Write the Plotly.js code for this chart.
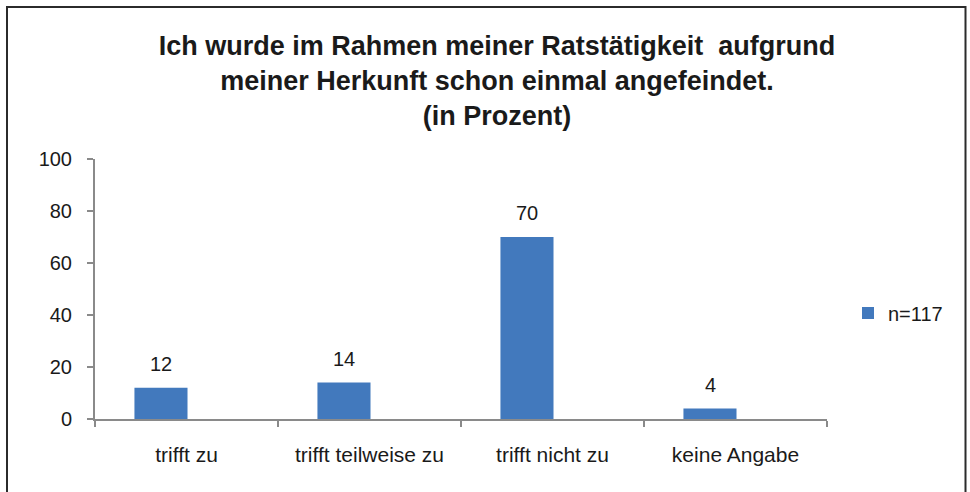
<!DOCTYPE html>
<html>
<head>
<meta charset="utf-8">
<script src="https://cdn.plot.ly/plotly-3.0.1.min.js"></script>
<style>
html,body{margin:0;padding:0;background:#fff;}
#chart{width:970px;height:492px;}
</style>
</head>
<body>
<div id="chart"></div>
<script>
const categories = ["trifft zu", "trifft teilweise zu", "trifft nicht zu", "keine Angabe"];
const values = [12, 14, 70, 4];
const seriesName = "n=117";
const yTicks = [0, 20, 40, 60, 80, 100];
const titleLines = [
  "Ich wurde im Rahmen meiner Ratstätigkeit  aufgrund",
  "meiner Herkunft schon einmal angefeindet.",
  "(in Prozent)"
];

const FONT = "Liberation Sans, Arial, Helvetica, sans-serif";
const BAR = "#4279bd";
const AXIS = "#8a8a8a";

const trace = {
  type: "bar",
  x: categories,
  y: values,
  name: seriesName,
  width: 0.29,
  offset: -0.2845,
  marker: {color: BAR, line: {width: 0}},
  hoverinfo: "x+y",
  showlegend: true
};

const labelAnnotations = categories.map((c, i) => ({
  x: c, y: values[i], xref: "x", yref: "y",
  text: String(values[i]),
  showarrow: false,
  xanchor: "center", yanchor: "bottom",
  xshift: -25.5, yshift: 11,
  font: {family: FONT, size: 20, color: "#1a1a1a"}
}));

const layout = {
  width: 970, height: 492,
  paper_bgcolor: "#ffffff",
  plot_bgcolor: "#ffffff",
  margin: {l: 95, r: 143, t: 159, b: 73, pad: 0},
  font: {family: FONT, color: "#1a1a1a"},
  title: {
    text: "<b>" + titleLines.join("<br>") + "</b>",
    font: {family: FONT, size: 27, color: "#1a1a1a"},
    xref: "container", yref: "container",
    x: 497/970, xanchor: "center",
    y: 1 - 55/492, yanchor: "top"
  },
  xaxis: {
    type: "category",
    range: [-0.5, categories.length - 0.5],
    showline: true, linecolor: AXIS, linewidth: 2,
    ticks: "outside", tickson: "boundaries", ticklen: 6, tickwidth: 1.5, tickcolor: AXIS,
    ticklabelstandoff: 16,
    showgrid: false, zeroline: false,
    tickfont: {family: FONT, size: 21, color: "#1a1a1a"},
    fixedrange: true
  },
  yaxis: {
    range: [0, 100],
    tickvals: yTicks,
    ticktext: yTicks.map(String),
    showline: true, linecolor: AXIS, linewidth: 2,
    ticks: "outside", ticklen: 6, tickwidth: 1.5, tickcolor: AXIS,
    ticklabelstandoff: 11,
    showgrid: false, zeroline: false,
    tickfont: {family: FONT, size: 20, color: "#1a1a1a"},
    fixedrange: true
  },
  showlegend: true,
  legend: {
    xref: "container", yref: "container",
    x: 848/970, xanchor: "left",
    y: 1 - 313/492, yanchor: "middle",
    font: {family: FONT, size: 20, color: "#1a1a1a"},
    bgcolor: "rgba(0,0,0,0)",
    itemwidth: 30
  },
  annotations: labelAnnotations,
  shapes: [{
    type: "rect", xref: "paper", yref: "paper",
    x0: (7 - 95) / 732, x1: (965.5 - 95) / 732,
    y0: -0.6, y1: (419 - 7) / 260,
    line: {color: "#2b2b2b", width: 2},
    fillcolor: "rgba(0,0,0,0)",
    layer: "above"
  }]
};

Plotly.newPlot("chart", [trace], layout, {displayModeBar: false, staticPlot: true});
</script>
</body>
</html>
